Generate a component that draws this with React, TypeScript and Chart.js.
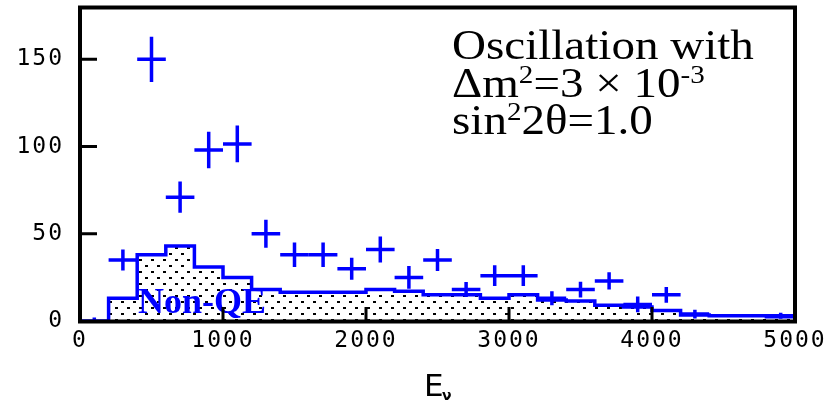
import React, { useEffect, useRef } from 'react';
import { Chart, registerables } from 'chart.js';

Chart.register(...registerables);

// Non-QE Monte Carlo histogram: left bin edges (MeV) and contents
const mcBinEdges = [200, 400, 600, 800, 1000, 1200, 1400, 1600, 1800, 2000, 2200, 2400, 2600, 2800, 3000, 3200, 3400, 3600, 3800, 4000, 4200, 4400, 4600, 4800];
const mcCounts = [13, 38, 43, 31, 25, 18, 16.5, 16.5, 16.5, 18, 17, 15, 15, 13, 15, 12, 11.5, 9, 8, 6, 3.5, 3, 3, 2.5];
const mcEnd = 5000;

// Data points (bin centres), counts and vertical error half-lengths
const dataE = [100, 300, 500, 700, 900, 1100, 1300, 1500, 1700, 1900, 2100, 2300, 2500, 2700, 2900, 3100, 3300, 3500, 3700, 3900, 4100, 4300, 4900];
const dataCounts = [0, 35, 150, 71, 98, 101.5, 50, 38, 38, 30, 41, 25, 35, 18, 26, 26, 13, 18, 23, 9.5, 15, 4, 3];
const dataErrors = [2, 6, 13, 9, 10.5, 10.5, 8, 7, 7, 6.3, 7.4, 6.5, 6.3, 4.3, 6, 6, 4, 4.5, 5, 4.5, 4.5, 2.5, 1.7];
const binHalfWidth = 100;

const xTicks = [0, 1000, 2000, 3000, 4000, 5000];
const yTicks = [0, 50, 100, 150];
const xMin = 0, xMax = 5000, yMin = 0, yMax = 180;

const xTitle = 'E';
const xTitleSub = 'ν';
const regionLabel = 'Non-QE';
type Part = { t: string; sup?: boolean };
const noteLine1: Part[] = [{ t: 'Oscillation with' }];
const noteLine2: Part[] = [{ t: 'Δm' }, { t: '2', sup: true }, { t: '=3 × 10' }, { t: '-3', sup: true }];
const noteLine3: Part[] = [{ t: 'sin' }, { t: '2', sup: true }, { t: '2θ=1.0' }];

const BLUE = '#0000ff';

function drawRich(ctx: CanvasRenderingContext2D, parts: Part[], x: number, y: number, size: number, supSize: number, raise: number) {
  let cx = x;
  for (const p of parts) {
    ctx.font = `${p.sup ? supSize : size}px "Liberation Serif"`;
    ctx.fillText(p.t, cx, p.sup ? y - raise : y);
    cx += ctx.measureText(p.t).width;
  }
}

export default function App() {
  const ref = useRef<HTMLCanvasElement>(null);

  useEffect(() => {
    const canvas = ref.current!;
    const ctx = canvas.getContext('2d')!;

    const pc = document.createElement('canvas');
    pc.width = 12; pc.height = 12;
    const p = pc.getContext('2d')!;
    p.fillStyle = '#fff'; p.fillRect(0, 0, 12, 12);
    p.fillStyle = '#000';
    p.fillRect(1, 1, 3, 2);
    p.fillRect(7, 7, 3, 2);
    const pattern = ctx.createPattern(pc, 'repeat')!;

    const histPoints: { x: number; y: number }[] = [{ x: mcBinEdges[0], y: 0 }];
    mcBinEdges.forEach((e, i) => histPoints.push({ x: e, y: mcCounts[i] }));
    histPoints.push({ x: mcEnd, y: mcCounts[mcCounts.length - 1] });

    const dataPoints = dataE.map((e, i) => ({ x: e, y: dataCounts[i] }));

    const overlay = {
      id: 'overlay',
      beforeDraw(chart: any) {
        chart.ctx.letterSpacing = '2px';
      },
      beforeDatasetsDraw(chart: any) {
        chart.ctx.letterSpacing = '0px';
      },
      afterDatasetsDraw(chart: any) {
        const c: CanvasRenderingContext2D = chart.ctx;
        const xs = chart.scales.x, ys = chart.scales.y;
        const ca = chart.chartArea;
        c.save();
        c.beginPath();
        c.rect(ca.left, ca.top, ca.right - ca.left, ca.bottom - ca.top);
        c.clip();
        c.strokeStyle = BLUE;
        c.lineWidth = 3.5;
        c.lineCap = 'butt';
        const meta = chart.getDatasetMeta(1);
        meta.data.forEach((pt: any, i: number) => {
          const xl = xs.getPixelForValue(dataE[i] - binHalfWidth);
          const xr = xs.getPixelForValue(dataE[i] + binHalfWidth);
          const yt = ys.getPixelForValue(dataCounts[i] + dataErrors[i]);
          const yb = ys.getPixelForValue(dataCounts[i] - dataErrors[i]);
          c.beginPath();
          c.moveTo(xl, pt.y); c.lineTo(xr, pt.y);
          c.moveTo(pt.x, yt); c.lineTo(pt.x, yb);
          c.stroke();
        });
        c.restore();

        // region label
        c.save();
        c.fillStyle = BLUE;
        c.font = 'bold 36px "Liberation Serif"';
        c.textBaseline = 'alphabetic';
        c.fillText(regionLabel, 138, 313);
        c.restore();

        // inward tick marks
        c.save();
        c.strokeStyle = '#000';
        c.lineWidth = 3;
        c.beginPath();
        yTicks.forEach(v => {
          if (v <= yMin) return;
          const y = ys.getPixelForValue(v);
          c.moveTo(ca.left, y); c.lineTo(ca.left + 17, y);
        });
        xTicks.forEach(v => {
          if (v <= xMin || v >= xMax) return;
          const x = xs.getPixelForValue(v);
          c.moveTo(x, ca.bottom); c.lineTo(x, ca.bottom - 14);
        });
        c.stroke();
        // frame
        c.lineWidth = 4;
        c.strokeRect(ca.left, ca.top + 0.5, ca.right - ca.left, ca.bottom - ca.top);
        c.restore();
      },
      afterDraw(chart: any) {
        const c: CanvasRenderingContext2D = chart.ctx;
        c.save();
        c.letterSpacing = '0px';
        c.fillStyle = '#000';
        c.textBaseline = 'alphabetic';
        c.textAlign = 'left';
        const sx = 1.12;
        c.save();
        c.scale(sx, 1);
        drawRich(c, noteLine1, 452 / sx, 59, 42, 26, 14);
        drawRich(c, noteLine2, 452 / sx, 97, 42, 26, 14);
        drawRich(c, noteLine3, 452 / sx, 134, 42, 26, 14);
        c.restore();
        // x axis title
        c.font = '31px "DejaVu Sans"';
        c.fillText(xTitle, 424, 396);
        c.font = 'bold 14px "DejaVu Sans"';
        c.fillText(xTitleSub, 442, 400);
        c.restore();
      },
    };

    const chart = new Chart(ctx, {
      type: 'line',
      data: {
        datasets: [
          {
            type: 'line',
            label: regionLabel,
            data: histPoints,
            borderColor: BLUE,
            borderWidth: 3.5,
            backgroundColor: pattern as any,
            fill: 'origin',
            stepped: 'before',
            pointRadius: 0,
            tension: 0,
          } as any,
          {
            type: 'scatter',
            label: 'Data',
            data: dataPoints,
            pointRadius: 0,
            showLine: false,
          } as any,
        ],
      },
      options: {
        responsive: true,
        maintainAspectRatio: false,
        animation: false,
        events: [],
        layout: { padding: { left: 0, right: 34, top: 7, bottom: 0 } },
        plugins: { legend: { display: false }, tooltip: { enabled: false } },
        scales: {
          x: {
            type: 'linear',
            min: xMin,
            max: xMax,
            grid: { display: false, drawTicks: false },
            border: { display: false },
            ticks: {
              padding: 6,
              color: '#000',
              autoSkip: false,
              maxRotation: 0,
              font: { family: '"DejaVu Sans Mono"', size: 23 },
              callback: (v: any) => String(v),
            },
            afterBuildTicks: (s: any) => { s.ticks = xTicks.map(v => ({ value: v })); },
            afterFit: (s: any) => { s.height = 82; s.paddingLeft = 0; s.paddingRight = 0; },
          },
          y: {
            type: 'linear',
            min: yMin,
            max: yMax,
            grid: { display: false, drawTicks: false },
            border: { display: false },
            ticks: {
              padding: 16,
              color: '#000',
              font: { family: '"DejaVu Sans Mono"', size: 23 },
              callback: (v: any) => String(v),
            },
            afterBuildTicks: (s: any) => { s.ticks = yTicks.map(v => ({ value: v })); },
            afterFit: (s: any) => { s.width = 80; s.paddingTop = 0; s.paddingBottom = 0; },
          },
        },
      } as any,
      plugins: [overlay],
    });
    return () => chart.destroy();
  }, []);

  return (
    <div style={{ position: 'fixed', left: 0, top: 0, width: 829, height: 403, background: '#fff' }}>
      <canvas ref={ref} />
    </div>
  );
}
